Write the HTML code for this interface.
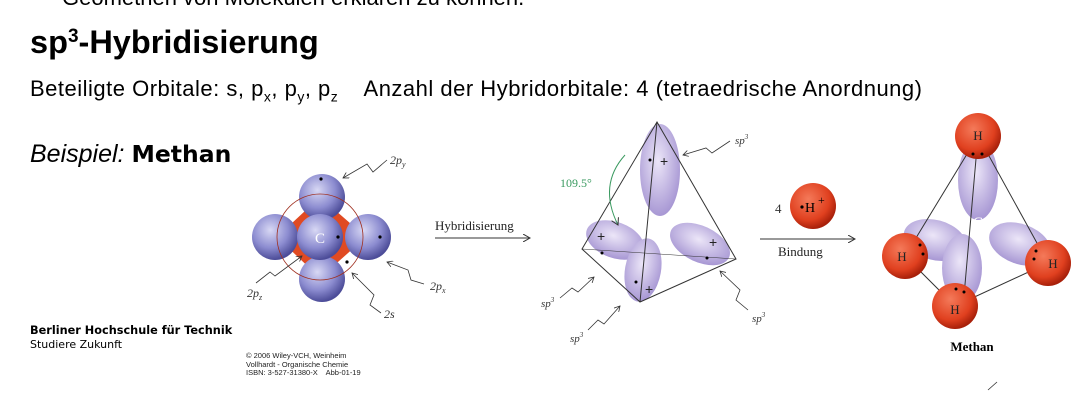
<!DOCTYPE html>
<html><head><meta charset="utf-8"><style>
body{margin:0;width:1082px;height:418px;overflow:hidden;background:#fff;position:relative;font-family:"Liberation Sans",sans-serif}
.t{position:absolute;white-space:nowrap;color:#000;line-height:1.15}
</style></head><body>
<div class="t" style="left:62px;top:-15px;font-size:22px">Geometrien von Molekülen erklären zu können.</div>
<div class="t" style="left:30px;top:24px;font-size:32.5px;font-weight:bold">sp<sup style="font-size:19px;vertical-align:11px">3</sup>-Hybridisierung</div>
<div class="t" style="left:30px;top:76px;font-size:22px;letter-spacing:0.5px">Beteiligte Orbitale: s, p<sub style="font-size:14px">x</sub>, p<sub style="font-size:14px">y</sub>, p<sub style="font-size:14px">z</sub> &nbsp;&nbsp; Anzahl der Hybridorbitale: 4 (tetraedrische Anordnung)</div>
<div class="t" style="left:30px;top:140px;font-size:25px"><i>Beispiel:</i> <b style="font-family:'DejaVu Sans',sans-serif;font-size:23.5px">Methan</b></div>
<div class="t" style="left:30px;top:324px;font-size:11.3px;font-weight:bold;font-family:'DejaVu Sans',sans-serif">Berliner Hochschule für Technik</div>
<div class="t" style="left:30px;top:339px;font-size:11px;font-family:'DejaVu Sans',sans-serif">Studiere Zukunft</div>
<div class="t" style="left:246px;top:352px;font-size:7.5px;line-height:8.5px;color:#222">© 2006 Wiley-VCH, Weinheim<br>Vollhardt - Organische Chemie<br>ISBN: 3-527-31380-X &nbsp;&nbsp; Abb-01-19</div>
<svg width="1082" height="418" style="position:absolute;left:0;top:0">
<defs>
<radialGradient id="b" cx="0.4" cy="0.35" r="0.65"><stop offset="0" stop-color="#d8d8f4"/><stop offset="0.6" stop-color="#8c8cd0"/><stop offset="1" stop-color="#4c4c98"/></radialGradient>
<radialGradient id="r" cx="0.4" cy="0.35" r="0.65"><stop offset="0" stop-color="#f47a5a"/><stop offset="0.7" stop-color="#e0401f"/><stop offset="1" stop-color="#a8200a"/></radialGradient>
<radialGradient id="l" cx="0.45" cy="0.4" r="0.6"><stop offset="0" stop-color="#ece6f8"/><stop offset="1" stop-color="#a898d4"/></radialGradient>
<marker id="a" markerWidth="8" markerHeight="8" refX="7" refY="4" orient="auto"><path d="M0,0 L7,4 L0,8" fill="none" stroke="#333"/></marker>
</defs>
<g>
<path d="M320,197 L277,237 L320,278 L366,237Z" fill="#e04a22"/>
<circle cx="322" cy="197" r="23" fill="url(#b)"/>
<circle cx="275" cy="237" r="23" fill="url(#b)"/>
<circle cx="368" cy="237" r="23" fill="url(#b)"/>
<circle cx="322" cy="279" r="23" fill="url(#b)"/>
<circle cx="320" cy="237" r="43" fill="none" stroke="#a03020" stroke-width="0.8"/>
<circle cx="320" cy="237" r="23" fill="url(#b)"/>
<text x="320" y="243" fill="#fff" font-family="Liberation Serif" font-size="15" text-anchor="middle">C</text>
<circle cx="321" cy="179" r="1.6"/><circle cx="338" cy="237" r="1.6"/><circle cx="380" cy="237" r="1.6"/><circle cx="347" cy="262" r="1.6"/>
<g fill="none" stroke="#333" stroke-width="0.8">
<path d="M387,160 L373,172 L367,164 L343,178" marker-end="url(#a)"/>
<path d="M256,283 L270,272 L275,276 L302,256" marker-end="url(#a)"/>
<path d="M424,284 L411,280 L408,270 L387,262" marker-end="url(#a)"/>
<path d="M381,313 L370,305 L374,295 L352,273" marker-end="url(#a)"/>
</g>
<g font-family="Liberation Serif" font-size="12" font-style="italic" fill="#333">
<text x="390" y="164">2p<tspan font-size="8" dy="3">y</tspan></text>
<text x="247" y="297">2p<tspan font-size="8" dy="3">z</tspan></text>
<text x="430" y="290">2p<tspan font-size="8" dy="3">x</tspan></text>
<text x="384" y="318">2s</text>
</g>
</g>
<g>
<text x="435" y="230" font-family="Liberation Serif" font-size="13" fill="#222">Hybridisierung</text>
<line x1="435" y1="238" x2="530" y2="238" stroke="#333" marker-end="url(#a)"/>
</g>
<g>
<ellipse cx="660" cy="170" rx="20" ry="46" fill="url(#l)"/>
<ellipse cx="615" cy="240" rx="30" ry="18" transform="rotate(20 615 240)" fill="url(#l)"/>
<ellipse cx="700" cy="244" rx="32" ry="18" transform="rotate(25 700 244)" fill="url(#l)"/>
<ellipse cx="643" cy="270" rx="18" ry="32" transform="rotate(10 643 270)" fill="url(#l)"/>
<g fill="none" stroke="#333" stroke-width="1">
<path d="M657,122 L582,249 L640,302 L736,259 Z M657,122 L640,302"/>
<path d="M582,249 L736,259" stroke-width="0.5"/>
</g>
<text x="657" y="226" fill="#fff" font-family="Liberation Serif" font-size="15" text-anchor="middle">C</text>
<g font-size="14" fill="#222"><text x="660" y="166">+</text><text x="597" y="241">+</text><text x="709" y="247">+</text><text x="645" y="294">+</text></g>
<circle cx="650" cy="160" r="1.5"/><circle cx="602" cy="253" r="1.5"/><circle cx="707" cy="258" r="1.5"/><circle cx="636" cy="282" r="1.5"/>
<path d="M625,155 Q598,185 618,225" fill="none" stroke="#3a9a60" stroke-width="1" marker-end="url(#a)"/>
<text x="560" y="187" font-family="Liberation Serif" font-size="12" fill="#3a9a60">109.5°</text>
<g fill="none" stroke="#333" stroke-width="0.8">
<path d="M730,141 L712,153 L706,148 L683,155" marker-end="url(#a)"/>
<path d="M560,298 L572,288 L578,292 L594,277" marker-end="url(#a)"/>
<path d="M588,330 L598,320 L604,324 L620,306" marker-end="url(#a)"/>
<path d="M748,310 L736,300 L740,290 L720,271" marker-end="url(#a)"/>
</g>
<g font-family="Liberation Serif" font-size="11" font-style="italic" fill="#333">
<text x="735" y="144">sp<tspan font-size="7" dy="-5">3</tspan></text>
<text x="541" y="307">sp<tspan font-size="7" dy="-5">3</tspan></text>
<text x="570" y="342">sp<tspan font-size="7" dy="-5">3</tspan></text>
<text x="752" y="322">sp<tspan font-size="7" dy="-5">3</tspan></text>
</g>
</g>
<g>
<text x="775" y="213" font-family="Liberation Serif" font-size="13" fill="#333">4</text>
<circle cx="813" cy="206" r="23" fill="url(#r)"/>
<circle cx="802" cy="207" r="1.6"/>
<text x="805" y="212" font-family="Liberation Serif" font-size="14">H</text>
<text x="818" y="204" font-family="Liberation Serif" font-size="12">+</text>
</g>
<g>
<line x1="760" y1="239" x2="855" y2="239" stroke="#333" marker-end="url(#a)"/>
<text x="778" y="256" font-family="Liberation Serif" font-size="13" fill="#222">Bindung</text>
</g>
<g>
<ellipse cx="978" cy="180" rx="20" ry="40" fill="url(#l)"/>
<ellipse cx="935" cy="240" rx="32" ry="20" transform="rotate(15 935 240)" fill="url(#l)"/>
<ellipse cx="1020" cy="244" rx="32" ry="20" transform="rotate(20 1020 244)" fill="url(#l)"/>
<ellipse cx="962" cy="268" rx="20" ry="34" fill="url(#l)"/>
<g fill="none" stroke="#333" stroke-width="1"><path d="M978,136 L905,256 L955,306 L1048,263 Z M978,136 L964,296"/></g>
<text x="978" y="227" fill="#fff" font-family="Liberation Serif" font-size="15" text-anchor="middle">C</text>
<g font-family="Liberation Serif" font-size="13" fill="#222" text-anchor="middle">
<circle cx="978" cy="136" r="23" fill="url(#r)"/><text x="978" y="140">H</text>
<circle cx="905" cy="256" r="23" fill="url(#r)"/><text x="902" y="261">H</text>
<circle cx="1048" cy="263" r="23" fill="url(#r)"/><text x="1053" y="268">H</text>
<circle cx="955" cy="306" r="23" fill="url(#r)"/><text x="955" y="314">H</text>
</g>
<g><circle cx="973" cy="154" r="1.5"/><circle cx="982" cy="154" r="1.5"/><circle cx="920" cy="245" r="1.5"/><circle cx="923" cy="254" r="1.5"/><circle cx="1036" cy="251" r="1.5"/><circle cx="1034" cy="259" r="1.5"/><circle cx="956" cy="289" r="1.5"/><circle cx="964" cy="292" r="1.5"/></g>
<text x="972" y="351" font-family="Liberation Serif" font-size="13" font-weight="bold" text-anchor="middle">Methan</text>
</g>
<line x1="988" y1="390" x2="997" y2="382" stroke="#333" stroke-width="0.8"/>
</svg>
</body></html>
